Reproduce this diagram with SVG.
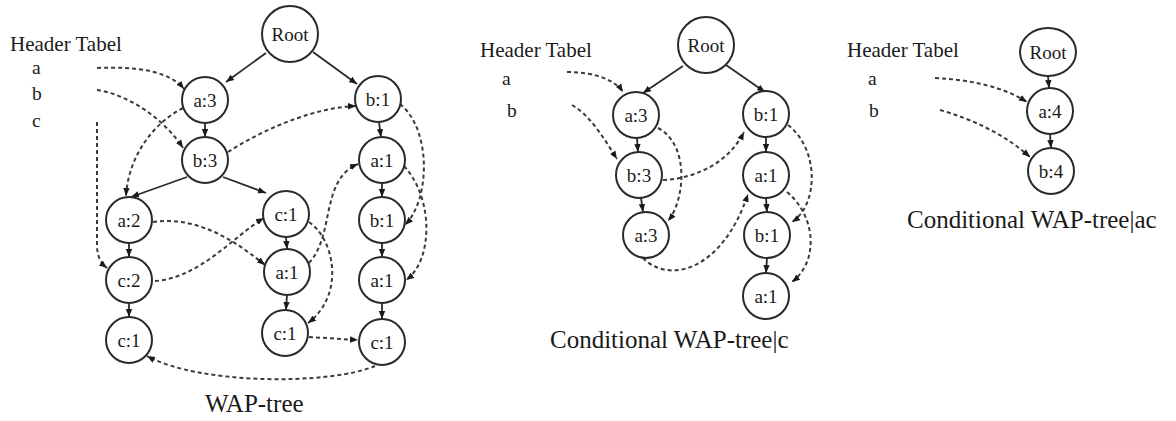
<svg xmlns="http://www.w3.org/2000/svg" width="1176" height="421" viewBox="0 0 1176 421">
  <style>
    .bg { fill: #ffffff; }
    .node circle, .node ellipse { fill: #ffffff; stroke: #2a2a2a; stroke-width: 2; }
    .node text { font-family: "Liberation Serif", "Times New Roman", serif; font-size: 19px; fill: #1a1a1a; text-anchor: middle; }
    .label { font-family: "Liberation Serif", "Times New Roman", serif; fill: #1a1a1a; }
    .hdr { font-size: 21px; }
    .item { font-size: 19.5px; }
    .title { font-size: 25px; }
    .edge { fill: none; stroke: #2a2a2a; stroke-width: 1.8; marker-end: url(#arrow); }
    .link { fill: none; stroke: #3a3a3a; stroke-width: 2; stroke-dasharray: 4 3; marker-end: url(#arrow); }
  </style>
  <defs>
    <marker id="arrow" markerUnits="userSpaceOnUse" markerWidth="9" markerHeight="8" refX="8" refY="4" orient="auto">
      <path d="M0,0.8 L8,4 L0,7.2 Z" fill="#1a1a1a"/>
    </marker>
  </defs>

  <rect class="bg" x="0" y="0" width="1176" height="421"/>

  <!-- header tables and captions -->
  <g id="labels">
    <text class="label hdr" x="10" y="51">Header Tabel</text>
    <text class="label item" x="32" y="74">a</text>
    <text class="label item" x="32" y="100">b</text>
    <text class="label item" x="32" y="127">c</text>
    <text class="label title" x="205" y="412">WAP-tree</text>

    <text class="label hdr" x="480" y="57">Header Tabel</text>
    <text class="label item" x="502" y="85">a</text>
    <text class="label item" x="507" y="117">b</text>
    <text class="label title" x="550" y="348">Conditional WAP-tree|c</text>

    <text class="label hdr" x="847" y="57">Header Tabel</text>
    <text class="label item" x="868" y="85">a</text>
    <text class="label item" x="869" y="117">b</text>
    <text class="label title" x="907" y="228">Conditional WAP-tree|ac</text>
  </g>

  <g id="connectors">
    <!-- WAP-tree: parent/child edges -->
    <path class="edge" d="M266,53 L226,82"/>
    <path class="edge" d="M313,52 L357,84"/>
    <path class="edge" d="M205,123 L205,137"/>
    <path class="edge" d="M187,177 L131,197"/>
    <path class="edge" d="M223,177 L266,193"/>
    <path class="edge" d="M129,243 L129,257"/>
    <path class="edge" d="M129,303 L129,317"/>
    <path class="edge" d="M286,237 L287,249"/>
    <path class="edge" d="M287,295 L286,310"/>
    <path class="edge" d="M379,122 L381,137"/>
    <path class="edge" d="M382,183 L382,197"/>
    <path class="edge" d="M382,243 L382,257"/>
    <path class="edge" d="M382,303 L382,319"/>

    <!-- WAP-tree: node links -->
    <path class="link" d="M97,68 C140,66 170,72 184,89"/>
    <path class="link" d="M97,90 C130,95 165,120 183,148"/>
    <path class="link" d="M97,122 L97,245 C97,258 102,264 107,268"/>
    <path class="link" d="M183,108 C150,125 128,160 126,196"/>
    <path class="link" d="M228,152 C270,125 320,107 356,106"/>
    <path class="link" d="M153,222 C200,215 240,245 265,265"/>
    <path class="link" d="M155,281 C200,278 235,235 264,218"/>
    <path class="link" d="M309,222 C335,240 345,295 308,323"/>
    <path class="link" d="M309,263 C335,235 320,180 358,164"/>
    <path class="link" d="M400,104 C432,130 430,200 405,225"/>
    <path class="link" d="M404,166 C435,200 432,262 406,280"/>
    <path class="link" d="M309,337 L358,340"/>
    <path class="link" d="M375,366 C330,385 200,385 147,356"/>

    <!-- Conditional WAP-tree|c: edges -->
    <path class="edge" d="M683,66 L643,93"/>
    <path class="edge" d="M726,65 L765,92"/>
    <path class="edge" d="M637,138 L638,152"/>
    <path class="edge" d="M641,198 L643,212"/>
    <path class="edge" d="M766,137 L766,152"/>
    <path class="edge" d="M766,198 L767,212"/>
    <path class="edge" d="M767,258 L766,273"/>

    <!-- Conditional WAP-tree|c: node links -->
    <path class="link" d="M567,72 C595,72 615,80 623,92"/>
    <path class="link" d="M572,105 C590,115 605,140 617,159"/>
    <path class="link" d="M658,128 C690,145 685,200 668,221"/>
    <path class="link" d="M663,180 C700,178 730,160 744,132"/>
    <path class="link" d="M643,258 C668,284 722,272 748,194"/>
    <path class="link" d="M788,125 C820,150 818,205 792,222"/>
    <path class="link" d="M787,192 C815,215 820,260 792,282"/>

    <!-- Conditional WAP-tree|ac: edges and links -->
    <path class="edge" d="M1048,76 L1049,88"/>
    <path class="edge" d="M1050,134 L1051,148"/>
    <path class="link" d="M935,78 C975,80 1005,88 1027,102"/>
    <path class="link" d="M940,110 C975,120 1005,135 1030,157"/>
  </g>

  <!-- WAP-tree nodes -->
  <g id="w-root" class="node"><circle cx="290" cy="34" r="28"/><text x="290" y="41">Root</text></g>
  <g id="w-a3" class="node"><circle cx="205" cy="100" r="23"/><text x="205" y="107">a:3</text></g>
  <g id="w-b3" class="node"><circle cx="205" cy="160" r="23"/><text x="205" y="167">b:3</text></g>
  <g id="w-a2" class="node"><circle cx="129" cy="220" r="23"/><text x="129" y="227">a:2</text></g>
  <g id="w-c2" class="node"><circle cx="129" cy="280" r="23"/><text x="129" y="287">c:2</text></g>
  <g id="w-c1-left" class="node"><circle cx="129" cy="340" r="23"/><text x="129" y="347">c:1</text></g>
  <g id="w-c1-mid" class="node"><circle cx="286" cy="214" r="23"/><text x="286" y="221">c:1</text></g>
  <g id="w-a1-mid" class="node"><circle cx="287" cy="272" r="23"/><text x="287" y="279">a:1</text></g>
  <g id="w-c1-midlow" class="node"><circle cx="285" cy="333" r="23"/><text x="285" y="340">c:1</text></g>
  <g id="w-b1-top" class="node"><circle cx="378" cy="99" r="23"/><text x="378" y="106">b:1</text></g>
  <g id="w-a1-top" class="node"><circle cx="382" cy="160" r="23"/><text x="382" y="167">a:1</text></g>
  <g id="w-b1-low" class="node"><circle cx="382" cy="220" r="23"/><text x="382" y="227">b:1</text></g>
  <g id="w-a1-low" class="node"><circle cx="382" cy="280" r="23"/><text x="382" y="287">a:1</text></g>
  <g id="w-c1-right" class="node"><circle cx="382" cy="342" r="23"/><text x="382" y="349">c:1</text></g>

  <!-- Conditional WAP-tree|c nodes -->
  <g id="c-root" class="node"><circle cx="706" cy="45" r="28"/><text x="706" y="52">Root</text></g>
  <g id="c-a3" class="node"><circle cx="636" cy="115" r="23"/><text x="636" y="122">a:3</text></g>
  <g id="c-b3" class="node"><circle cx="639" cy="175" r="23"/><text x="639" y="182">b:3</text></g>
  <g id="c-a3-low" class="node"><circle cx="646" cy="235" r="23"/><text x="646" y="242">a:3</text></g>
  <g id="c-b1-top" class="node"><circle cx="766" cy="114" r="23"/><text x="766" y="121">b:1</text></g>
  <g id="c-a1-top" class="node"><circle cx="766" cy="175" r="23"/><text x="766" y="182">a:1</text></g>
  <g id="c-b1-low" class="node"><circle cx="767" cy="235" r="23"/><text x="767" y="242">b:1</text></g>
  <g id="c-a1-low" class="node"><circle cx="766" cy="296" r="23"/><text x="766" y="303">a:1</text></g>

  <!-- Conditional WAP-tree|ac nodes -->
  <g id="ac-root" class="node"><ellipse cx="1048" cy="52" rx="28" ry="24"/><text x="1048" y="59">Root</text></g>
  <g id="ac-a4" class="node"><circle cx="1050" cy="111" r="23"/><text x="1050" y="118">a:4</text></g>
  <g id="ac-b4" class="node"><circle cx="1051" cy="171" r="23"/><text x="1051" y="178">b:4</text></g>
</svg>
